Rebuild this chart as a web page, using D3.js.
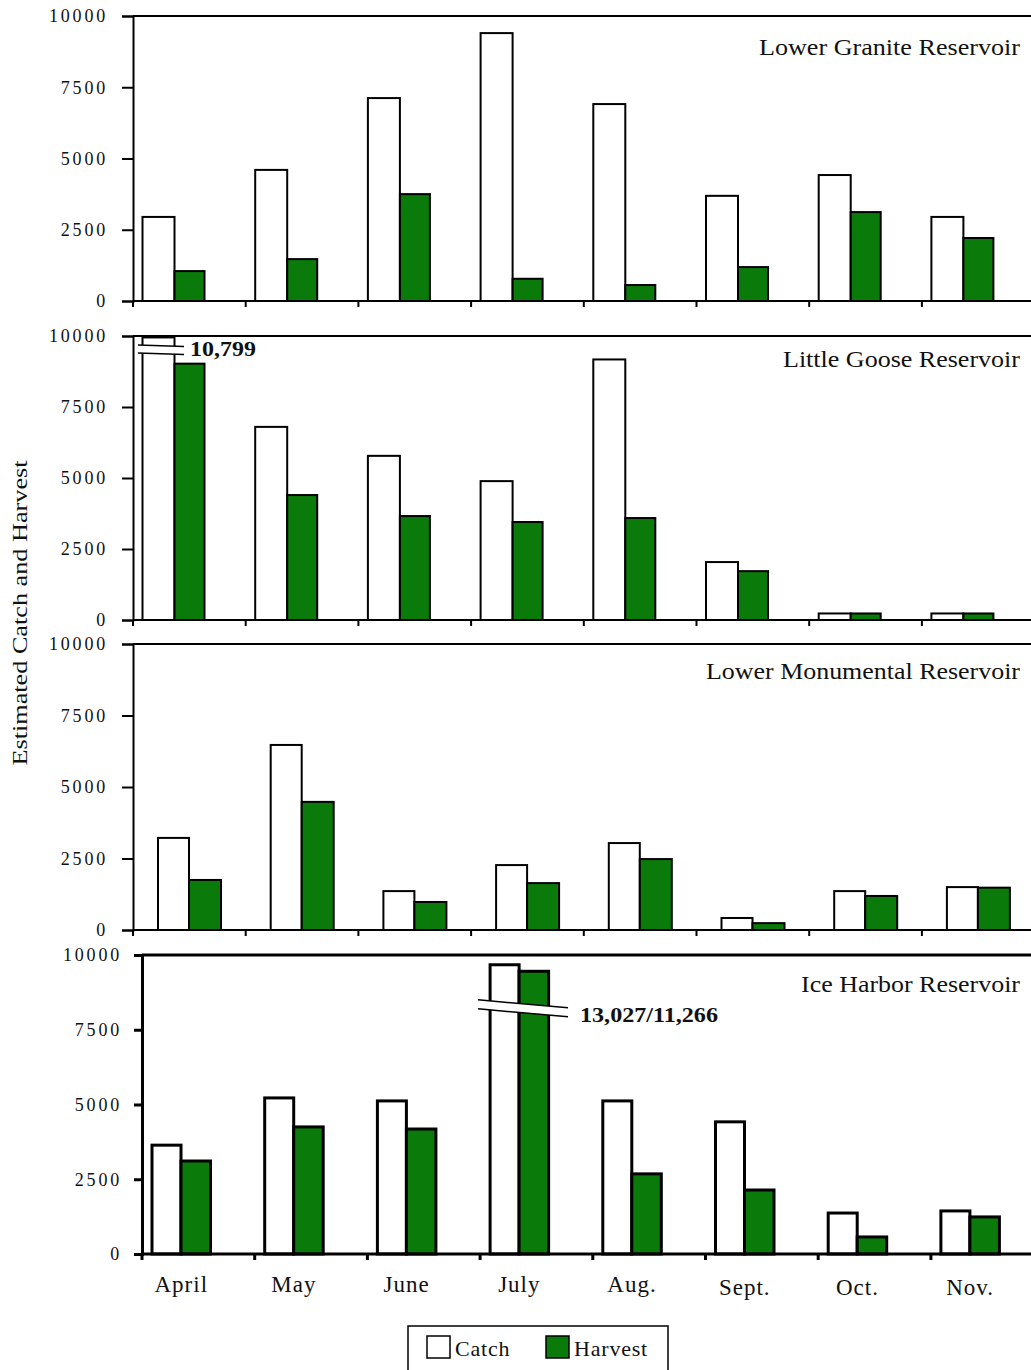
<!DOCTYPE html>
<html>
<head>
<meta charset="utf-8">
<script src="https://cdn.jsdelivr.net/npm/d3@7/dist/d3.min.js"></script>
<style>
  html, body { margin: 0; padding: 0; background: #fff; }
  svg { display: block; }
  text { font-family: "Liberation Serif", "Times New Roman", serif; fill: #111; }
</style>
</head>
<body>
<svg id="chart" width="1031" height="1370"></svg>
<script>
// Monthly estimated catch and harvest per reservoir
const months = ["April", "May", "June", "July", "Aug.", "Sept.", "Oct.", "Nov."];
const reservoirs = ["Lower Granite Reservoir", "Little Goose Reservoir", "Lower Monumental Reservoir", "Ice Harbor Reservoir"];

const lowerGraniteCatch   = [2950, 4600, 7120, 9400, 6910, 3690, 4420, 2950];
const lowerGraniteHarvest = [1050, 1470, 3750, 780, 560, 1190, 3120, 2210];

const littleGooseCatch    = [10799, 6800, 5780, 4890, 9330, 2040, 230, 230];
const littleGooseHarvest  = [9050, 4400, 3660, 3450, 3590, 1720, 230, 230];

const lowerMonCatch       = [3220, 6470, 1360, 2270, 3040, 420, 1360, 1500];
const lowerMonHarvest     = [1750, 4480, 980, 1640, 2480, 240, 1190, 1480];

const iceHarborCatch      = [3640, 5220, 5120, 13027, 5120, 4420, 1370, 1440];
const iceHarborHarvest    = [3110, 4250, 4180, 11266, 2680, 2140, 570, 1240];

const yTicks = [0, 2500, 5000, 7500, 10000];
const seriesNames = ["Catch", "Harvest"];

const GREEN = "#0a7a0a";

// Panel geometry (axis x, plot top/bottom, bar placement inside each month band)
const panels = [
  { name: reservoirs[0], catch: lowerGraniteCatch, harvest: lowerGraniteHarvest,
    ax: 133, top: 16, bot: 301, off: 9.5, cw: 32, hw: 30, lw: 2, titleY: 55, titleW: 261 },
  { name: reservoirs[1], catch: littleGooseCatch, harvest: littleGooseHarvest,
    ax: 133, top: 336, bot: 620, off: 9.5, cw: 32, hw: 30, lw: 2, titleY: 367, titleW: 237,
    squeeze: { from: [0, 9000, 10800], to: [0, 9000, 9950] },
    brk: { value: 9680, x1: 138, x2: 184, slope: 1.5, gap: 8, label: "10,799", lx: 190, ly: 356, lw: 66 } },
  { name: reservoirs[2], catch: lowerMonCatch, harvest: lowerMonHarvest,
    ax: 133, top: 644, bot: 930, off: 25, cw: 31, hw: 32, lw: 2, titleY: 679, titleW: 314 },
  { name: reservoirs[3], catch: iceHarborCatch, harvest: iceHarborHarvest,
    ax: 142, top: 955, bot: 1254, off: 10, cw: 29, hw: 29.5, lw: 3, titleY: 992, titleW: 219,
    squeeze: { from: [0, 9200, 13000], to: [0, 9200, 9670] },
    brk: { value: 8500, x1: 478, x2: 568, slope: 8, gap: 9, label: "13,027/11,266", lx: 580, ly: 1022, lw: 138 } }
];

const BAND = 112.7;
const svg = d3.select("#chart");

panels.forEach((p, pi) => {
  const x = d3.scaleBand().domain(months).range([p.ax, p.ax + BAND * months.length]).padding(0);
  const y = d3.scaleLinear().domain([0, 10000]).range([p.bot, p.top]);
  // values past the top of the axis are drawn on a compressed (broken) segment
  const squeeze = p.squeeze
    ? d3.scaleLinear().domain(p.squeeze.from).range(p.squeeze.to)
    : (v => v);
  const yv = v => y(squeeze(v));

  const g = svg.append("g");

  // bars
  months.forEach((m, i) => {
    const bx = x(m) + p.off;
    const cTop = yv(p.catch[i]);
    g.append("rect")
      .attr("x", bx).attr("y", cTop)
      .attr("width", p.cw).attr("height", p.bot - cTop)
      .attr("fill", "#fff").attr("stroke", "#000").attr("stroke-width", p.lw);
    const hTop = yv(p.harvest[i]);
    g.append("rect")
      .attr("x", bx + p.cw).attr("y", hTop)
      .attr("width", p.hw).attr("height", p.bot - hTop)
      .attr("fill", GREEN).attr("stroke", "#000").attr("stroke-width", p.lw);
  });

  // axis break marks and value label
  if (p.brk) {
    const b = p.brk;
    const yb = y(b.value);
    const gb = g.append("g");
    gb.append("polygon")
      .attr("points", [[b.x1, yb], [b.x2, yb + b.slope], [b.x2, yb + b.slope + b.gap], [b.x1, yb + b.gap]].map(d => d.join(",")).join(" "))
      .attr("fill", "#fff");
    [0, b.gap].forEach(d => {
      gb.append("line")
        .attr("x1", b.x1).attr("y1", yb + d)
        .attr("x2", b.x2).attr("y2", yb + b.slope + d)
        .attr("stroke", "#000").attr("stroke-width", 1.5);
    });
    gb.append("text")
      .attr("x", b.lx).attr("y", b.ly)
      .attr("font-size", 21).attr("font-weight", "bold")
      .attr("textLength", b.lw).attr("lengthAdjust", "spacingAndGlyphs")
      .text(b.label);
  }

  // frame: top rule, y axis, x axis
  g.append("line")
    .attr("x1", p.ax).attr("x2", 1031).attr("y1", p.top).attr("y2", p.top)
    .attr("stroke", "#000").attr("stroke-width", p.lw);

  const yAxis = d3.axisLeft(y).tickValues(yTicks).tickSize(pi === 3 ? 8 : 11).tickPadding(pi === 3 ? 12 : 14).tickFormat(d3.format("d"));
  const ga = g.append("g").attr("transform", `translate(${p.ax},0)`).call(yAxis);
  ga.select(".domain").attr("stroke", "#000").attr("stroke-width", p.lw);
  ga.selectAll(".tick line").attr("stroke", "#000").attr("stroke-width", p.lw);
  ga.selectAll(".tick text")
    .attr("font-size", 18).attr("letter-spacing", 2.8).attr("fill", "#222");

  const xAxis = d3.axisBottom(x).tickValues(months).tickSize(6).tickFormat("");
  const gx = g.append("g").attr("transform", `translate(0,${p.bot})`).call(xAxis);
  gx.select(".domain").attr("d", `M${p.ax},0H1031`).attr("stroke", "#000").attr("stroke-width", p.lw);
  gx.selectAll(".tick").attr("transform", d => `translate(${x(d)},0)`);
  gx.selectAll(".tick line").attr("stroke", "#000").attr("stroke-width", p.lw);

  // reservoir title
  g.append("text")
    .attr("x", 1020).attr("y", p.titleY)
    .attr("text-anchor", "end")
    .attr("font-size", 23)
    .attr("textLength", p.titleW).attr("lengthAdjust", "spacingAndGlyphs")
    .text(p.name);

  // month labels under the last panel
  if (pi === panels.length - 1) {
    months.forEach((m, i) => {
      g.append("text")
        .attr("x", x(m) + p.off + (p.cw + p.hw) / 2)
        .attr("y", i >= 5 ? 1295 : 1292)
        .attr("text-anchor", "middle")
        .attr("font-size", 23)
        .attr("letter-spacing", 1)
        .text(m);
    });
  }
});

// shared y-axis title
svg.append("text")
  .attr("transform", "translate(27,613) rotate(-90)")
  .attr("text-anchor", "middle")
  .attr("font-size", 21)
  .attr("textLength", 305).attr("lengthAdjust", "spacingAndGlyphs")
  .text("Estimated Catch and Harvest");

// legend
const lg = svg.append("g");
lg.append("rect")
  .attr("x", 408).attr("y", 1326).attr("width", 260).attr("height", 60)
  .attr("fill", "#fff").attr("stroke", "#000").attr("stroke-width", 1.5);
const legendX = [427, 546];
seriesNames.forEach((s, i) => {
  lg.append("rect")
    .attr("x", legendX[i]).attr("y", 1336).attr("width", 23).attr("height", 22)
    .attr("fill", i === 0 ? "#fff" : GREEN).attr("stroke", "#000").attr("stroke-width", 1.5);
  lg.append("text")
    .attr("x", legendX[i] + 28).attr("y", 1356)
    .attr("font-size", 22).attr("letter-spacing", 0.8)
    .text(s);
});
</script>
</body>
</html>
